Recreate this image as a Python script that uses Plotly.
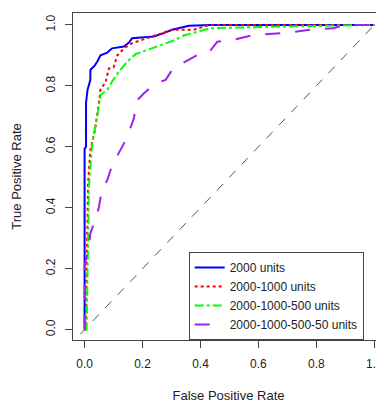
import plotly.graph_objects as go

# ROC curve points (False Positive Rate, True Positive Rate)
blue_fpr = [0.0, 0.0, 0.005, 0.005, 0.01, 0.02, 0.02, 0.036, 0.044, 0.055, 0.078, 0.095, 0.136, 0.153, 0.164, 0.239, 0.273, 0.302, 0.36, 0.434, 1.0]
blue_tpr = [0.0, 0.594, 0.6, 0.745, 0.786, 0.82, 0.852, 0.868, 0.88, 0.90, 0.909, 0.923, 0.929, 0.942, 0.956, 0.962, 0.973, 0.984, 0.997, 1.0, 1.0]

red_fpr = [0.0, 0.004, 0.012, 0.02, 0.036, 0.044, 0.049, 0.055, 0.072, 0.084, 0.10, 0.113, 0.136, 0.164, 0.233, 0.273, 0.302, 0.377, 0.43, 1.0]
red_tpr = [0.0, 0.0, 0.48, 0.59, 0.655, 0.70, 0.742, 0.79, 0.81, 0.857, 0.86, 0.90, 0.923, 0.94, 0.962, 0.973, 0.984, 0.984, 1.0, 1.0]

green_fpr = [0.0, 0.007, 0.015, 0.027, 0.044, 0.055, 0.078, 0.095, 0.118, 0.147, 0.176, 0.233, 0.268, 0.314, 0.342, 0.434, 0.6, 1.0]
green_tpr = [0.0, 0.0, 0.47, 0.62, 0.70, 0.77, 0.786, 0.814, 0.847, 0.879, 0.904, 0.923, 0.934, 0.951, 0.965, 0.989, 0.993, 1.0]

purple_fpr = [0.0, 0.0, 0.013, 0.02, 0.038, 0.049, 0.06, 0.072, 0.078, 0.095, 0.118, 0.136, 0.153, 0.17, 0.176, 0.182, 0.204, 0.245, 0.279, 0.302, 0.337, 0.366, 0.389, 0.429, 0.458, 0.515, 0.584, 0.687, 0.779, 0.86, 0.894, 1.0]
purple_tpr = [0.0, 0.21, 0.266, 0.316, 0.365, 0.40, 0.46, 0.479, 0.49, 0.539, 0.578, 0.611, 0.649, 0.693, 0.726, 0.753, 0.775, 0.808, 0.819, 0.852, 0.874, 0.89, 0.901, 0.909, 0.945, 0.951, 0.967, 0.973, 0.984, 0.989, 1.0, 1.0]

diag = [-0.1, 1.1]

series = [
    ("2000 units", blue_fpr, blue_tpr, "#0000FF", "solid"),
    ("2000-1000 units", red_fpr, red_tpr, "#FF0000", "dot"),
    ("2000-1000-500 units", green_fpr, green_tpr, "#00FF00", "dashdot"),
    ("2000-1000-500-50 units", purple_fpr, purple_tpr, "#A020F0", "longdash"),
]

x_ticks = [0.0, 0.2, 0.4, 0.6, 0.8, 1.0]
y_ticks = [0.0, 0.2, 0.4, 0.6, 0.8, 1.0]
tick_text = ["0.0", "0.2", "0.4", "0.6", "0.8", "1.0"]

fig = go.Figure()
fig.add_trace(go.Scatter(x=diag, y=diag, mode="lines", showlegend=False,
                         line=dict(color="#555555", width=1, dash="dash"), hoverinfo="skip"))
for name, fx, ty, col, dash in series:
    fig.add_trace(go.Scatter(x=fx, y=ty, mode="lines", name=name,
                             line=dict(color=col, width=2, dash=dash)))

font_col = "#222222"
fig.update_layout(
    width=376, height=395,
    margin=dict(l=65, r=0, t=5, b=63, autoexpand=False),
    plot_bgcolor="white", paper_bgcolor="white",
    font=dict(family="Liberation Sans, Arial, sans-serif", size=12, color=font_col),
    legend=dict(x=0.372, y=0, xanchor="left", yanchor="bottom",
                bordercolor="#444444", borderwidth=1, bgcolor="white",
                font=dict(size=12), tracegroupgap=0, itemwidth=30),
)
fig.update_xaxes(range=[-0.040, 1.0334], tickvals=x_ticks, ticktext=tick_text,
                 automargin=False, ticklabelstandoff=6,
                 showgrid=False, zeroline=False, showline=True, mirror=True,
                 linecolor="#444444", linewidth=1, ticks="outside", ticklen=7,
                 tickcolor="#444444",
                 title=dict(text="False Positive Rate", font=dict(size=13), standoff=22))
fig.update_yaxes(range=[-0.034, 1.039], tickvals=y_ticks, ticktext=tick_text,
                 automargin=False, ticklabelstandoff=5,
                 showgrid=False, zeroline=False, showline=True, mirror=True,
                 linecolor="#444444", linewidth=1, ticks="outside", ticklen=7,
                 tickcolor="#444444", tickangle=-90,
                 title=dict(text="True Positive Rate", font=dict(size=13), standoff=19))

fig.write_html("out.html")
